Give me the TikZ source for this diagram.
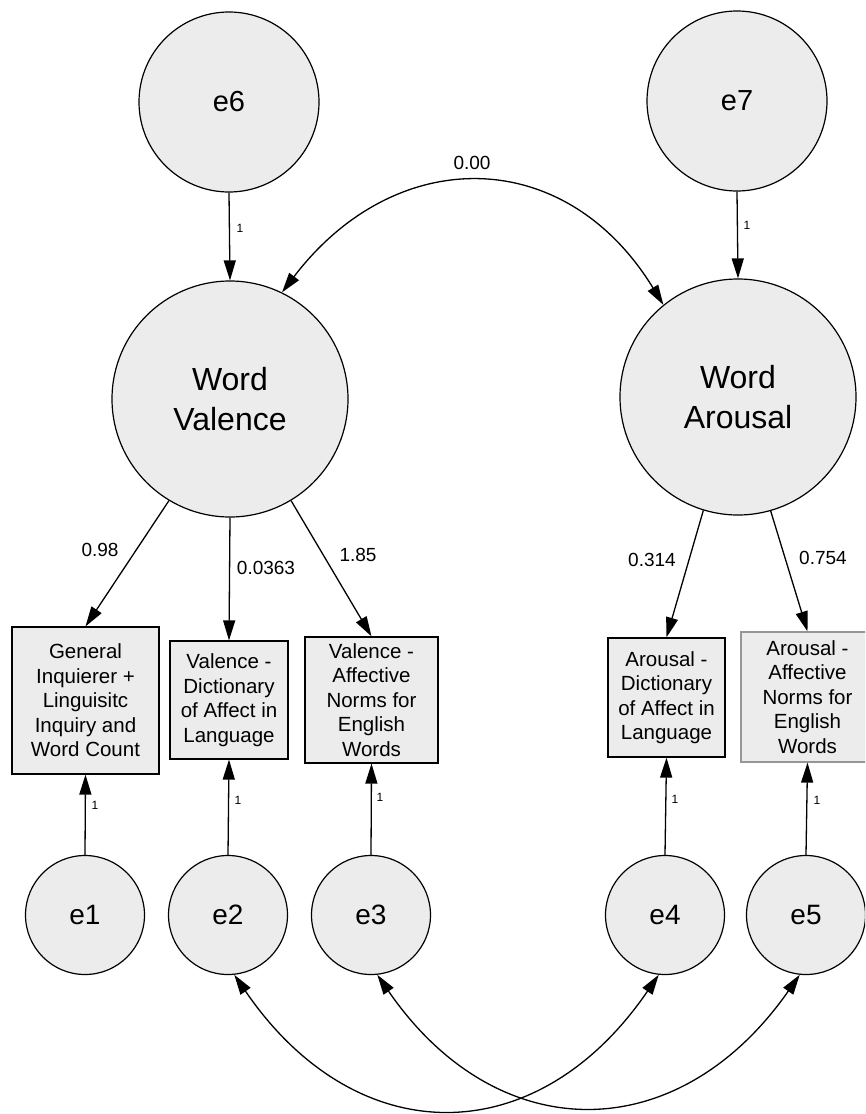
\documentclass[tikz,border=0pt]{standalone}
\usepackage{fontspec}
\setmainfont{Liberation Sans}
\usetikzlibrary{arrows.meta}
\definecolor{nodefill}{RGB}{236,236,236}
\definecolor{boxgray}{RGB}{150,150,150}
\begin{document}
\begin{tikzpicture}[x=1pt,y=-1pt,
  latent/.style={circle, draw=black, fill=nodefill, line width=1.2pt, inner sep=0pt, minimum size=236pt, align=center, font=\fontsize{32}{40}\selectfont},
  errbig/.style={circle, draw=black, fill=nodefill, line width=1.2pt, inner sep=0pt, minimum size=180pt, font=\fontsize{29}{34}\selectfont},
  errsmall/.style={circle, draw=black, fill=nodefill, line width=1.2pt, inner sep=0pt, minimum size=119pt, font=\fontsize{28}{34}\selectfont},
  obs/.style={rectangle, draw=black, fill=nodefill, line width=1.2pt, inner sep=0pt, align=center, font=\fontsize{20.5}{24.5}\selectfont},
  arr/.style={-{Triangle[length=20pt,width=12pt]}, line width=1.3pt},
  dbl/.style={{Triangle[length=20pt,width=12pt]}-{Triangle[length=20pt,width=12pt]}, line width=1.3pt},
  coef/.style={inner sep=0pt, font=\fontsize{19}{22}\selectfont},
  one/.style={inner sep=0pt, font=\fontsize{12}{14}\selectfont}
]
\useasboundingbox (0,0) rectangle (865,1114);
\clip (0,0) rectangle (865,1114);

% latent variables
\node[latent] (WV) at (230,399) {Word\\Valence};
\node[latent] (WA) at (738,397) {Word\\Arousal};

% top error terms
\node[errbig] (e6) at (229,102) {e6};
\node[errbig] (e7) at (737,101) {e7};

% observed indicators
\node[obs, minimum width=147pt, minimum height=147pt] (b1) at (85.5,700.5) {General\\Inquierer +\\Linguisitc\\Inquiry and\\Word Count};
\node[obs, minimum width=118pt, minimum height=118pt] (b2) at (229,700) {Valence -\\Dictionary\\of Affect in\\Language};
\node[obs, minimum width=133pt, minimum height=126pt] (b3) at (371.5,700) {Valence -\\Affective\\Norms for\\English\\Words};
\node[obs, minimum width=117pt, minimum height=119pt] (b4) at (666.5,697.5) {Arousal -\\Dictionary\\of Affect in\\Language};
\node[obs, draw=boxgray, minimum width=133pt, minimum height=130pt] (b5) at (807.5,697) {Arousal -\\Affective\\Norms for\\English\\Words};

% bottom error terms
\node[errsmall] (e1) at (85,915) {e1};
\node[errsmall] (e2) at (228,915) {e2};
\node[errsmall] (e3) at (371,915) {e3};
\node[errsmall] (e4) at (665,915) {e4};
\node[errsmall] (e5) at (806,915) {e5};

% disturbances to latents
\draw[arr] (e6.south) -- (WV.north);
\draw[arr] (e7.south) -- (WA.north);
\node[one] (l6) at (240,228) {1};
\node[one] (l7) at (747,225) {1};

% covariance between latents
\draw[dbl] (WV.64) .. controls (395,144) and (565,144) .. (WA.129);
\node[coef] (c00) at (472,163) {0.00};

% loadings
\draw[arr] (WV.-121) -- (b1.north);
\draw[arr] (WV.south) -- (b2.north);
\draw[arr] (WV.-59) -- (b3.north);
\draw[arr] (WA.-107) -- (b4.north);
\draw[arr] (WA.-74) -- (b5.north);
\node[coef] (c1) at (100,550) {0.98};
\node[coef] (c2) at (266,568) {0.0363};
\node[coef] (c3) at (358,555) {1.85};
\node[coef] (c4) at (652,560) {0.314};
\node[coef] (c5) at (823,558) {0.754};

% measurement errors
\draw[arr] (e1.north) -- (b1.south);
\draw[arr] (e2.north) -- (b2.south);
\draw[arr] (e3.north) -- (b3.south);
\draw[arr] (e4.north) -- (b4.south);
\draw[arr] (e5.north) -- (b5.south);
\node[one] (l1) at (95,805) {1};
\node[one] (l2) at (238,800) {1};
\node[one] (l3) at (380,797) {1};
\node[one] (l4) at (675,799) {1};
\node[one] (l5) at (817,800) {1};

% error covariances
\draw[dbl] (e2.-84) .. controls (356,1153) and (537,1153) .. (e4.-96);
\draw[dbl] (e3.-84) .. controls (497,1149) and (678,1149) .. (e5.-96);
\end{tikzpicture}
\end{document}
